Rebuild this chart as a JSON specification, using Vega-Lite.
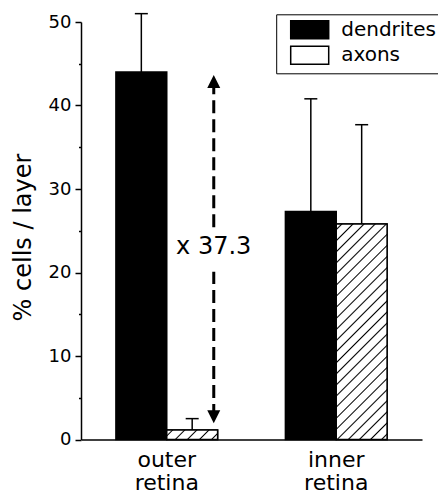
{
  "$schema": "https://vega.github.io/schema/vega-lite/v6.json",
  "width": 341,
  "height": 417.5,
  "autosize": {"type": "none"},
  "padding": {"left": 81, "top": 22, "right": 16, "bottom": 57.5},
  "background": "white",
  "config": {
    "view": {"stroke": null},
    "font": "DejaVu Sans",
    "axis": {"labelFont": "DejaVu Sans", "titleFont": "DejaVu Sans"},
    "legend": {"labelFont": "DejaVu Sans"}
  },
  "datasets": {
    "bars": [
      {"region": "outer", "type": "dendrites", "mean": 44.0, "upper": 51.0},
      {"region": "outer", "type": "axons", "mean": 1.15, "upper": 2.5},
      {"region": "inner", "type": "dendrites", "mean": 27.3, "upper": 40.8},
      {"region": "inner", "type": "axons", "mean": 25.8, "upper": 37.7}
    ],
    "arrowline": [
      {"region": "outer", "y": 42.9, "y2": 25.2},
      {"region": "outer", "y": 2.7, "y2": 20.1}
    ],
    "arrowhead": [
      {"region": "outer", "y": 42.87, "dir": "up"},
      {"region": "outer", "y": 2.72, "dir": "down"}
    ],
    "label": [
      {"region": "outer", "y": 23.0, "text": "x 37.3"}
    ]
  },
  "layer": [
    {
      "data": {"name": "bars"},
      "mark": {"type": "bar", "stroke": "black", "strokeWidth": 1.5},
      "encoding": {
        "x": {
          "field": "region", "type": "nominal", "title": null,
          "sort": ["outer", "inner"],
          "scale": {"domain": ["outer", "inner"], "paddingInner": 0.4, "paddingOuter": 0.206},
          "axis": {
            "title": null, "domainColor": "black", "domainWidth": 1.5, "ticks": false,
            "labelAngle": 0, "labelFontSize": 22, "labelColor": "black", "labelPadding": 10,
            "labelLineHeight": 23, "labelExpr": "[datum.value, 'retina']"
          }
        },
        "xOffset": {"field": "type", "type": "nominal", "scale": {"domain": ["dendrites", "axons"], "paddingInner": 0, "paddingOuter": 0}},
        "y": {
          "field": "mean", "type": "quantitative", "title": "% cells / layer",
          "scale": {"domain": [0, 50], "nice": false},
          "axis": {
            "values": [0, 5, 10, 15, 20, 25, 30, 35, 40, 45, 50], "grid": false,
            "labelExpr": "datum.value % 10 === 0 ? datum.label : ''",
            "domainColor": "black", "domainWidth": 1.5, "tickColor": "black", "tickWidth": 1.5,
            "tickSize": {"condition": {"test": "datum.value % 10 === 0", "value": 6}, "value": 2.5},
            "labelFontSize": 18, "labelColor": "black", "labelPadding": 4,
            "titleFontSize": 24, "titleFontWeight": "normal", "titleColor": "black",
            "titleX": -58, "titleY": 215, "titleAngle": -90, "titleAlign": "center", "titleBaseline": "middle"
          }
        },
        "fill": {
          "field": "type", "type": "nominal",
          "scale": {"domain": ["dendrites", "axons"], "range": ["black", "white"]},
          "legend": {
            "orient": "none", "legendX": 195.2, "legendY": -7.7, "title": null,
            "symbolType": "M-2,-0.95H2V0.95H-2Z", "symbolSize": 361,
            "symbolStrokeColor": "black", "symbolStrokeWidth": 1.5, "symbolOpacity": 1,
            "symbolOffset": 18, "labelOffset": 21,
            "labelFontSize": 20, "labelColor": "black",
            "rowPadding": 0.5, "padding": 5, "strokeColor": "black"
          }
        }
      }
    },
    {
      "data": {"name": "bars"},
      "transform": [{"filter": "datum.type === 'axons' && datum.region === 'inner'"}],
      "mark": {
        "type": "bar", "stroke": "black", "strokeWidth": 1.5,
        "fill": {
          "gradient": "linear", "x1": 0, "y1": 0, "x2": 0.276, "y2": 1.171,
          "stops": [
            {"offset": 0, "color": "#fff"},
            {"offset": 0.0153, "color": "#fff"}, {"offset": 0.0208, "color": "#000"}, {"offset": 0.0263, "color": "#fff"},
            {"offset": 0.057, "color": "#fff"}, {"offset": 0.0625, "color": "#000"}, {"offset": 0.068, "color": "#fff"},
            {"offset": 0.0987, "color": "#fff"}, {"offset": 0.1042, "color": "#000"}, {"offset": 0.1097, "color": "#fff"},
            {"offset": 0.1403, "color": "#fff"}, {"offset": 0.1458, "color": "#000"}, {"offset": 0.1513, "color": "#fff"},
            {"offset": 0.182, "color": "#fff"}, {"offset": 0.1875, "color": "#000"}, {"offset": 0.193, "color": "#fff"},
            {"offset": 0.2237, "color": "#fff"}, {"offset": 0.2292, "color": "#000"}, {"offset": 0.2347, "color": "#fff"},
            {"offset": 0.2653, "color": "#fff"}, {"offset": 0.2708, "color": "#000"}, {"offset": 0.2763, "color": "#fff"},
            {"offset": 0.307, "color": "#fff"}, {"offset": 0.3125, "color": "#000"}, {"offset": 0.318, "color": "#fff"},
            {"offset": 0.3487, "color": "#fff"}, {"offset": 0.3542, "color": "#000"}, {"offset": 0.3597, "color": "#fff"},
            {"offset": 0.3903, "color": "#fff"}, {"offset": 0.3958, "color": "#000"}, {"offset": 0.4013, "color": "#fff"},
            {"offset": 0.432, "color": "#fff"}, {"offset": 0.4375, "color": "#000"}, {"offset": 0.443, "color": "#fff"},
            {"offset": 0.4737, "color": "#fff"}, {"offset": 0.4792, "color": "#000"}, {"offset": 0.4847, "color": "#fff"},
            {"offset": 0.5153, "color": "#fff"}, {"offset": 0.5208, "color": "#000"}, {"offset": 0.5263, "color": "#fff"},
            {"offset": 0.557, "color": "#fff"}, {"offset": 0.5625, "color": "#000"}, {"offset": 0.568, "color": "#fff"},
            {"offset": 0.5987, "color": "#fff"}, {"offset": 0.6042, "color": "#000"}, {"offset": 0.6097, "color": "#fff"},
            {"offset": 0.6403, "color": "#fff"}, {"offset": 0.6458, "color": "#000"}, {"offset": 0.6513, "color": "#fff"},
            {"offset": 0.682, "color": "#fff"}, {"offset": 0.6875, "color": "#000"}, {"offset": 0.693, "color": "#fff"},
            {"offset": 0.7237, "color": "#fff"}, {"offset": 0.7292, "color": "#000"}, {"offset": 0.7347, "color": "#fff"},
            {"offset": 0.7653, "color": "#fff"}, {"offset": 0.7708, "color": "#000"}, {"offset": 0.7763, "color": "#fff"},
            {"offset": 0.807, "color": "#fff"}, {"offset": 0.8125, "color": "#000"}, {"offset": 0.818, "color": "#fff"},
            {"offset": 0.8487, "color": "#fff"}, {"offset": 0.8542, "color": "#000"}, {"offset": 0.8597, "color": "#fff"},
            {"offset": 0.8903, "color": "#fff"}, {"offset": 0.8958, "color": "#000"}, {"offset": 0.9013, "color": "#fff"},
            {"offset": 0.932, "color": "#fff"}, {"offset": 0.9375, "color": "#000"}, {"offset": 0.943, "color": "#fff"},
            {"offset": 0.9737, "color": "#fff"}, {"offset": 0.9792, "color": "#000"}, {"offset": 0.9847, "color": "#fff"},
            {"offset": 1, "color": "#fff"}
          ]
        }
      },
      "encoding": {
        "x": {"field": "region", "type": "nominal", "title": null},
        "xOffset": {"field": "type", "type": "nominal"},
        "y": {"field": "mean", "type": "quantitative", "title": "% cells / layer"}
      }
    },
    {
      "data": {"name": "bars"},
      "transform": [{"filter": "datum.type === 'axons' && datum.region === 'outer'"}],
      "mark": {
        "type": "bar", "stroke": "black", "strokeWidth": 1.5,
        "fill": {
          "gradient": "linear", "x1": 0, "y1": 0, "x2": 1.148, "y2": 0.2167,
          "stops": [
            {"offset": 0, "color": "#fff"},
            {"offset": 0.077, "color": "#fff"}, {"offset": 0.1, "color": "#000"}, {"offset": 0.123, "color": "#fff"},
            {"offset": 0.277, "color": "#fff"}, {"offset": 0.3, "color": "#000"}, {"offset": 0.323, "color": "#fff"},
            {"offset": 0.477, "color": "#fff"}, {"offset": 0.5, "color": "#000"}, {"offset": 0.523, "color": "#fff"},
            {"offset": 0.677, "color": "#fff"}, {"offset": 0.7, "color": "#000"}, {"offset": 0.723, "color": "#fff"},
            {"offset": 0.877, "color": "#fff"}, {"offset": 0.9, "color": "#000"}, {"offset": 0.923, "color": "#fff"},
            {"offset": 1, "color": "#fff"}
          ]
        }
      },
      "encoding": {
        "x": {"field": "region", "type": "nominal", "title": null},
        "xOffset": {"field": "type", "type": "nominal"},
        "y": {"field": "mean", "type": "quantitative", "title": "% cells / layer"}
      }
    },
    {
      "data": {"name": "bars"},
      "mark": {"type": "rule", "strokeWidth": 1.5, "color": "black"},
      "encoding": {
        "x": {"field": "region", "type": "nominal", "title": null},
        "xOffset": {"field": "type", "type": "nominal"},
        "y": {"field": "mean", "type": "quantitative", "title": "% cells / layer"},
        "y2": {"field": "upper"}
      }
    },
    {
      "data": {"name": "bars"},
      "mark": {"type": "tick", "orient": "horizontal", "size": 13, "thickness": 1.5, "color": "black", "opacity": 1},
      "encoding": {
        "x": {"field": "region", "type": "nominal", "title": null},
        "xOffset": {"field": "type", "type": "nominal"},
        "y": {"field": "upper", "type": "quantitative", "title": "% cells / layer"}
      }
    },
    {
      "data": {"name": "arrowline"},
      "mark": {"type": "rule", "strokeWidth": 3, "color": "black", "strokeDash": [13, 6], "xOffset": 47},
      "encoding": {
        "x": {"field": "region", "type": "nominal", "title": null},
        "y": {"field": "y", "type": "quantitative", "title": "% cells / layer"},
        "y2": {"field": "y2"}
      }
    },
    {
      "data": {"name": "arrowhead"},
      "mark": {"type": "point", "filled": true, "size": 169, "color": "black", "opacity": 1, "xOffset": 47},
      "encoding": {
        "x": {"field": "region", "type": "nominal", "title": null},
        "y": {"field": "y", "type": "quantitative", "title": "% cells / layer"},
        "shape": {"field": "dir", "type": "nominal", "scale": {"domain": ["up", "down"], "range": ["M0,-1L1,1L-1,1Z", "M0,1L1,-1L-1,-1Z"]}, "legend": null}
      }
    },
    {
      "data": {"name": "label"},
      "mark": {"type": "text", "fontSize": 24, "color": "black", "align": "center", "baseline": "middle", "xOffset": 47},
      "encoding": {
        "x": {"field": "region", "type": "nominal", "title": null},
        "y": {"field": "y", "type": "quantitative", "title": "% cells / layer"},
        "text": {"field": "text"}
      }
    }
  ]
}
